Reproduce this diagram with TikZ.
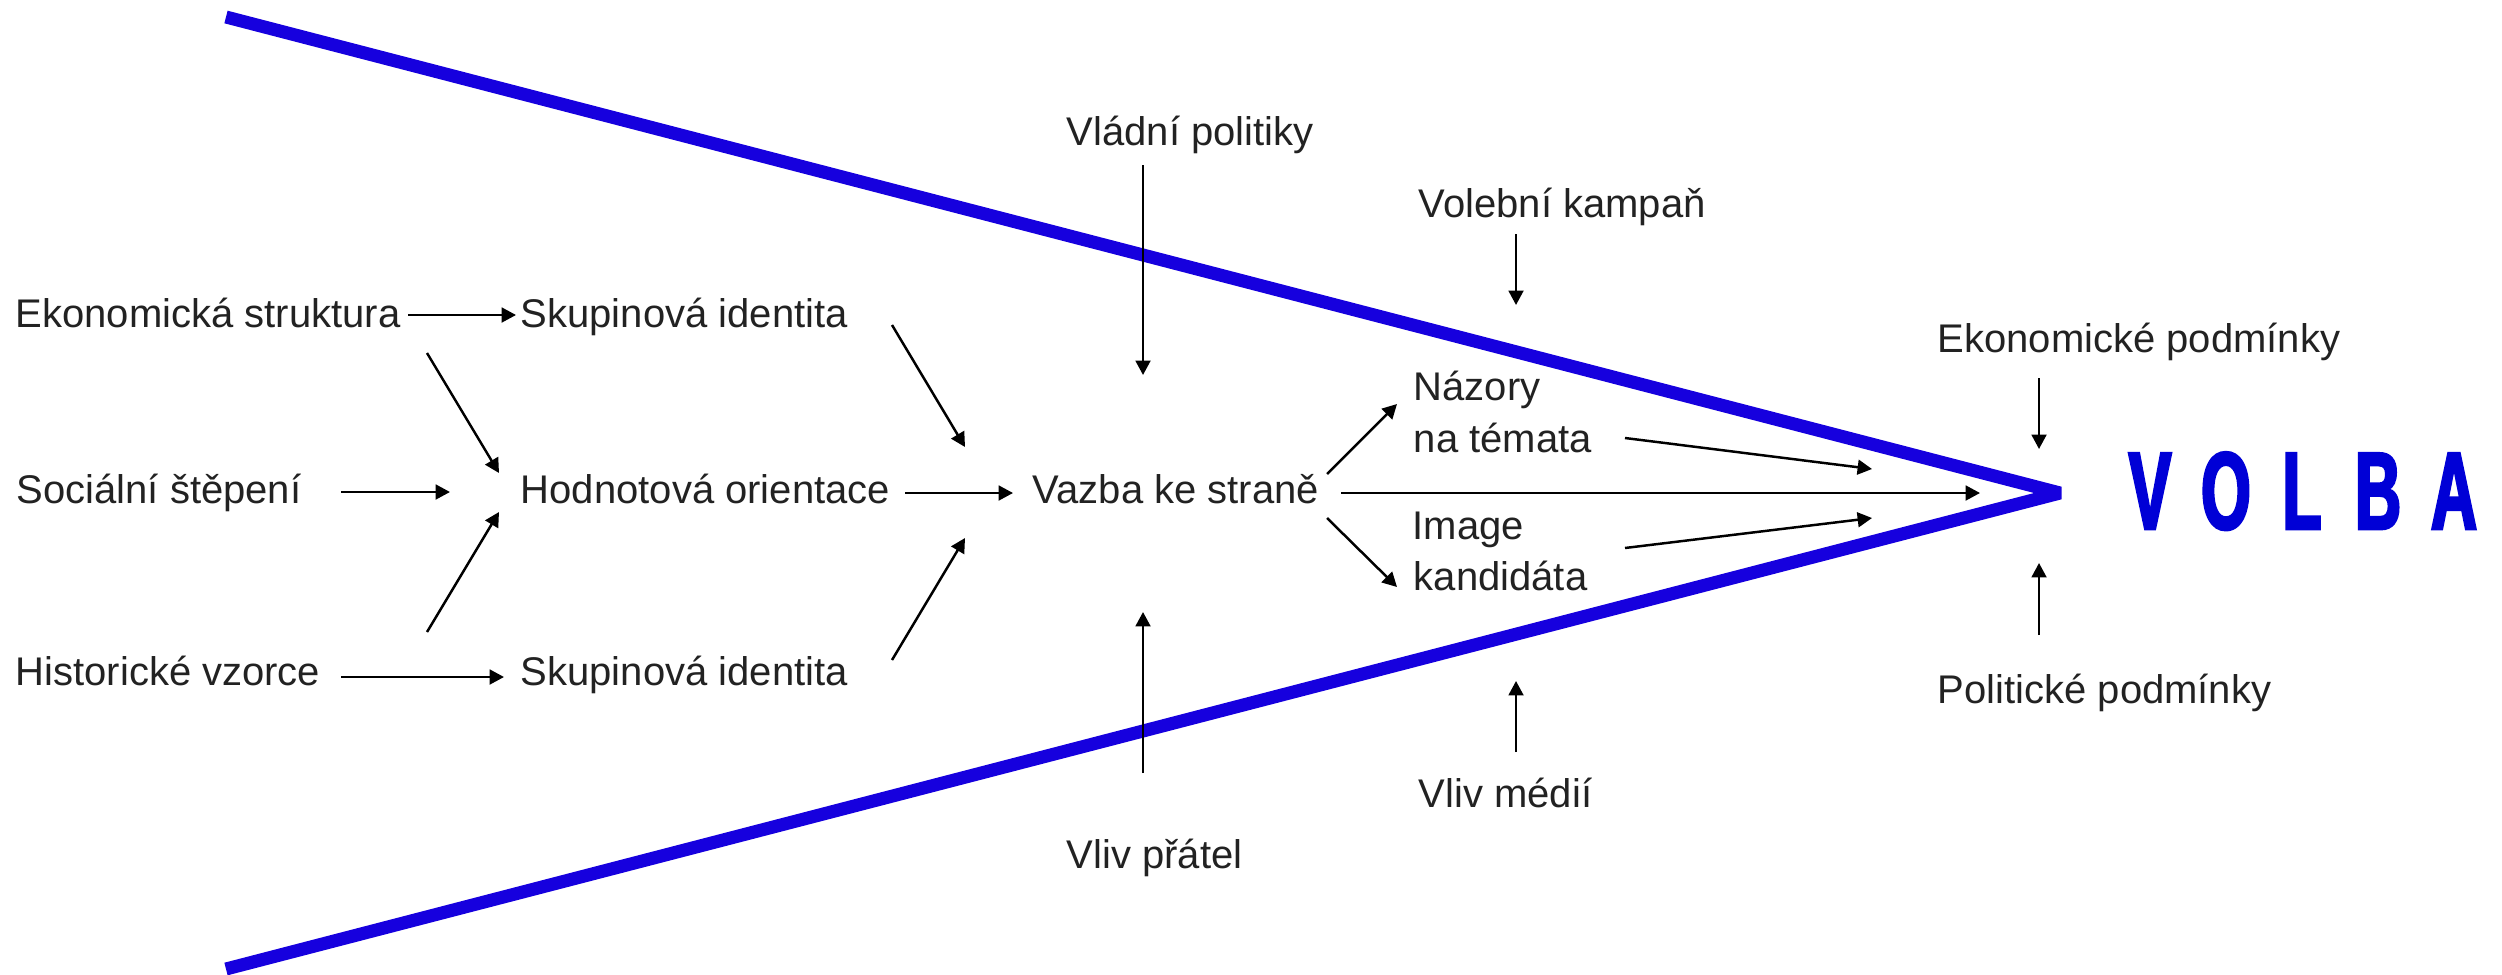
\documentclass[tikz,border=0pt]{standalone}
\usepackage{fontspec}
\setmainfont{Liberation Sans}
\newfontfamily\volbafont[FakeStretch=0.58,FakeBold=2.5]{Liberation Sans}
\usetikzlibrary{arrows.meta}
\definecolor{wedgeblue}{RGB}{22,0,222}
\definecolor{volbablue}{RGB}{0,0,214}
\definecolor{txtgray}{RGB}{34,34,34}
\begin{document}
\begin{tikzpicture}[x=0.25pt,y=-0.25pt,
  lbl/.style={anchor=base west,inner sep=0pt,font=\fontsize{10pt}{12pt}\selectfont,text=txtgray},
  arr/.style={-{Triangle[length=3.6pt,width=3.7pt]},line width=0.62pt,black},
  wedge/.style={draw=wedgeblue,line width=3.25pt,line join=bevel,line cap=butt}]
\useasboundingbox (0,0) rectangle (2502,974);
% wedge
\coordinate (wtop) at (226,17);
\coordinate (wapex) at (2060,493);
\coordinate (wbot) at (226,969);
\draw[wedge] (wtop) -- (wapex) -- (wbot);
% labels
\node[lbl] (ek)  at (15,327)  {Ekonomická struktura};
\node[lbl] (sk1) at (520,327) {Skupinová identita};
\node[lbl] (soc) at (16,503)  {Sociální štěpení};
\node[lbl] (hod) at (520,503) {Hodnotová orientace};
\node[lbl] (his) at (15,685)  {Historické vzorce};
\node[lbl] (sk2) at (520,685) {Skupinová identita};
\node[lbl] (vaz) at (1032,503) {Vazba ke straně};
\node[lbl] (vlp) at (1066,145) {Vládní politiky};
\node[lbl] (vok) at (1418,217) {Volební kampaň};
\node[lbl] (naz1) at (1413,400) {Názory};
\node[lbl] (naz2) at (1413,452) {na témata};
\node[lbl] (img1) at (1412,539) {Image};
\node[lbl] (img2) at (1413,590) {kandidáta};
\node[lbl] (vmed) at (1418,807) {Vliv médií};
\node[lbl] (vpr) at (1066,868) {Vliv přátel};
\node[lbl] (ekp) at (1937,352) {Ekonomické podmínky};
\node[lbl] (pop) at (1937,703) {Politické podmínky};
\node[anchor=base,inner sep=0pt,text=volbablue,font=\volbafont\bfseries\fontsize{27.5pt}{30pt}\selectfont] (volba) at (2302,529)
  {\makebox[19pt]{V}\makebox[19pt]{O}\makebox[19pt]{L}\makebox[19pt]{B}\makebox[19pt]{A}};
% arrow end points
\coordinate (a1s) at (408,315);  \coordinate (a1e) at (516,315);
\coordinate (a2s) at (427,353);  \coordinate (a2e) at (499,473);
\coordinate (a3s) at (341,492);  \coordinate (a3e) at (450,492);
\coordinate (a4s) at (427,632);  \coordinate (a4e) at (499,512);
\coordinate (a5s) at (341,677);  \coordinate (a5e) at (504,677);
\coordinate (a6s) at (892,325);  \coordinate (a6e) at (965,447);
\coordinate (a7s) at (905,493);  \coordinate (a7e) at (1013,493);
\coordinate (a8s) at (892,660);  \coordinate (a8e) at (965,538);
\coordinate (a9s) at (1143,165); \coordinate (a9e) at (1143,375);
\coordinate (a10s) at (1143,773); \coordinate (a10e) at (1143,612);
\coordinate (a11s) at (1516,234); \coordinate (a11e) at (1516,305);
\coordinate (a12s) at (1516,752); \coordinate (a12e) at (1516,681);
\coordinate (a13s) at (1327,474); \coordinate (a13e) at (1397,404);
\coordinate (a14s) at (1327,518); \coordinate (a14e) at (1397,587);
\coordinate (a15s) at (1341,493); \coordinate (a15e) at (1980,493);
\coordinate (a16s) at (1625,438); \coordinate (a16e) at (1872,469);
\coordinate (a17s) at (1625,548); \coordinate (a17e) at (1872,518);
\coordinate (a18s) at (2039,378); \coordinate (a18e) at (2039,449);
\coordinate (a19s) at (2039,635); \coordinate (a19e) at (2039,563);
\foreach \i in {1,...,19} {\draw[arr] (a\i s) -- (a\i e);}
\end{tikzpicture}
\end{document}
